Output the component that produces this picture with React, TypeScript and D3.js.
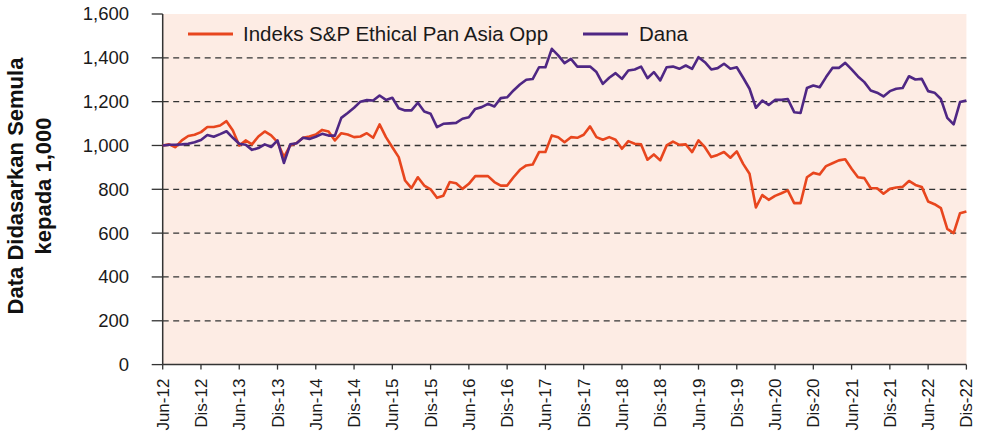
import React from "react";
import * as d3 from "d3";

const tickLabels = [
  "Jun-12", "Dis-12", "Jun-13", "Dis-13", "Jun-14", "Dis-14", "Jun-15", "Dis-15",
  "Jun-16", "Dis-16", "Jun-17", "Dis-17", "Jun-18", "Dis-18", "Jun-19", "Dis-19",
  "Jun-20", "Dis-20", "Jun-21", "Dis-21", "Jun-22", "Dis-22",
];

const yTicks = [0, 200, 400, 600, 800, 1000, 1200, 1400, 1600];

// monthly values, Jun-12 .. Dis-22
const indexValues = [
  1000, 1005, 992, 1023, 1043, 1049, 1061, 1084, 1084, 1091,
  1111, 1068, 1000, 1023, 1005, 1041, 1064, 1046, 1015, 947,
  1000, 1011, 1035, 1041, 1050, 1071, 1064, 1023, 1056, 1050,
  1038, 1041, 1056, 1035, 1096, 1038, 992, 947, 840, 805,
  855, 817, 800, 761, 771, 833, 828, 802, 825, 860,
  860, 860, 833, 817, 817, 855, 889, 909, 913, 970,
  970, 1046, 1038, 1015, 1038, 1035, 1049, 1087, 1038, 1026,
  1038, 1026, 985, 1020, 1008, 1005, 935, 959, 932, 1000,
  1018, 1003, 1005, 970, 1023, 992, 947, 957, 970, 944,
  973, 916, 871, 717, 774, 752, 770, 782, 795, 737,
  737, 855, 875, 868, 906, 919, 932, 937, 894, 855,
  851, 805, 805, 780, 802, 808, 811, 838, 820, 811,
  744, 732, 714, 619, 600, 691, 699,
];

const fundValues = [
  1000, 1003, 1003, 1005, 1008, 1015, 1025, 1048, 1040, 1052,
  1065, 1035, 1008, 1003, 980, 988, 1005, 993, 1023, 920,
  1005, 1010, 1035, 1030, 1040, 1053, 1045, 1045, 1126, 1148,
  1172, 1200, 1207, 1205, 1228, 1208, 1218, 1170, 1160, 1160,
  1195, 1155, 1145, 1084, 1099, 1101, 1103, 1122, 1129, 1167,
  1175, 1190, 1178, 1216, 1220, 1251, 1278, 1300, 1303, 1357,
  1357, 1441, 1411, 1376, 1395, 1360, 1360, 1360, 1335, 1281,
  1309, 1330, 1304, 1342, 1347, 1360, 1307, 1335, 1297, 1357,
  1360, 1350, 1365, 1350, 1403, 1380, 1347, 1353, 1373, 1350,
  1357, 1309, 1259, 1172, 1205, 1185, 1208, 1208, 1212, 1152,
  1148, 1262, 1274, 1266, 1312, 1354, 1354, 1377, 1347, 1315,
  1289, 1251, 1241, 1224, 1248, 1259, 1262, 1316, 1301, 1304,
  1248, 1241, 1212, 1126, 1096, 1198, 1205,
];

const seriesNames = ["Indeks S&P Ethical Pan Asia Opp", "Dana"];
const seriesColors = ["#E8461E", "#4F2784"];

const W = 982;
const H = 440;
const left = 162.7;
const right = 966.4;
const top = 14;
const bottom = 364.6;
const FONT = "'Liberation Sans', Arial, Helvetica, sans-serif";

export default function App() {
  const nMonths = indexValues.length - 1;
  const x = d3.scaleLinear().domain([0, nMonths]).range([left, right]);
  const y = d3.scaleLinear().domain([0, 1600]).range([bottom, top]);
  const line = d3
    .line<number>()
    .x((_, i) => x(i))
    .y((v) => y(v));
  const series = [indexValues, fundValues];

  return (
    <svg
      width={W}
      height={H}
      style={{ position: "absolute", left: 0, top: 0, background: "#fff" }}
      fontFamily={FONT}
    >
      <rect x={left} y={top} width={right - left} height={bottom - top} fill="#FDECE4" />
      {yTicks
        .filter((t) => t > 0 && t < 1600)
        .map((t) => (
          <line
            key={"g" + t}
            x1={left}
            x2={right}
            y1={y(t)}
            y2={y(t)}
            stroke="#333"
            strokeWidth={1.3}
            strokeDasharray="6,4.5"
          />
        ))}
      {yTicks.map((t) => (
        <g key={"yt" + t}>
          <line x1={left - 11} x2={left} y1={y(t)} y2={y(t)} stroke="#333" strokeWidth={1.3} />
          <text
            x={129}
            y={y(t)}
            dy="0.35em"
            textAnchor="end"
            fontSize={18.5}
            fill="#1a1a1a"
          >
            {d3.format(",")(t)}
          </text>
        </g>
      ))}
      {tickLabels.map((lab, i) => {
        const xx = x(i * 6);
        return (
          <g key={"xt" + i}>
            <line x1={xx} x2={xx} y1={bottom} y2={bottom + 5} stroke="#333" strokeWidth={1.3} />
            <text
              transform={`translate(${xx + 6},${bottom + 14}) rotate(-90)`}
              textAnchor="end"
              fontSize={17}
              fill="#1a1a1a"
            >
              {lab}
            </text>
          </g>
        );
      })}
      <line x1={left} x2={left} y1={top} y2={bottom} stroke="#333" strokeWidth={1.5} />
      <line x1={left} x2={right} y1={bottom} y2={bottom} stroke="#333" strokeWidth={1.5} />
      {series.map((s, i) => (
        <path
          key={"s" + i}
          d={line(s) || ""}
          fill="none"
          stroke={seriesColors[i]}
          strokeWidth={2.6}
          strokeLinejoin="round"
        />
      ))}
      <g>
        <line x1={188} x2={233} y1={34} y2={34} stroke={seriesColors[0]} strokeWidth={2.8} />
        <text x={243} y={34} dy="0.35em" fontSize={20.5} fill="#1a1a1a">
          {seriesNames[0]}
        </text>
        <line x1={583} x2={628} y1={34} y2={34} stroke={seriesColors[1]} strokeWidth={2.8} />
        <text x={639} y={34} dy="0.35em" fontSize={20.5} fill="#1a1a1a">
          {seriesNames[1]}
        </text>
      </g>
      <g transform="translate(23,186) rotate(-90)">
        <text textAnchor="middle" fontSize={22} fontWeight="bold" fill="#111">
          Data Didasarkan Semula
        </text>
        <text y={28} textAnchor="middle" fontSize={22} fontWeight="bold" fill="#111">
          kepada 1,000
        </text>
      </g>
    </svg>
  );
}
